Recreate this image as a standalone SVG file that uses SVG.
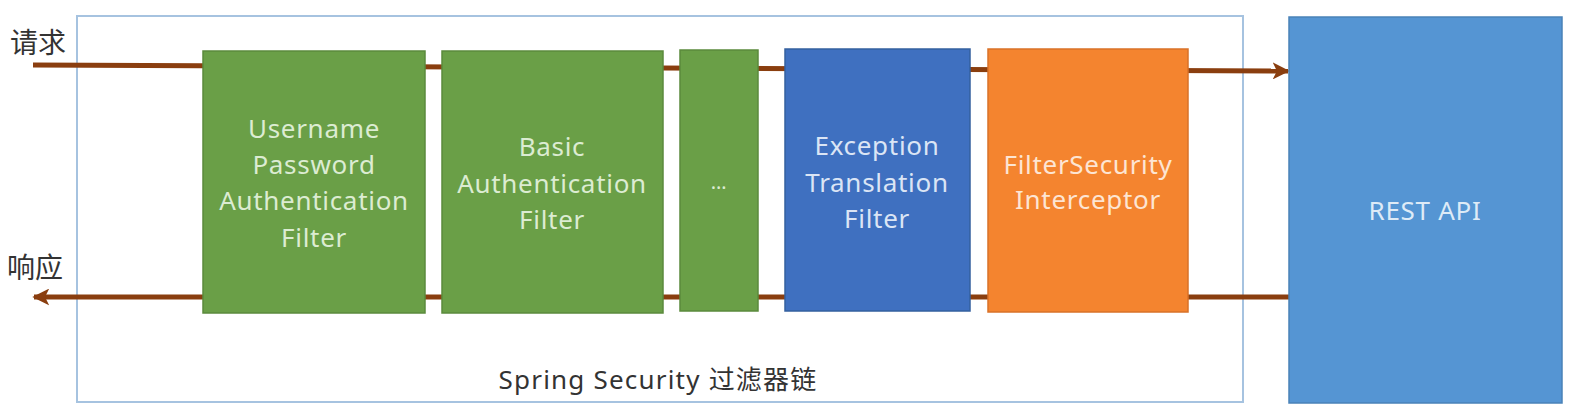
<svg xmlns="http://www.w3.org/2000/svg" width="1574" height="418" viewBox="0 0 1574 418">
<style>
  .lbl { font-family: "Noto Sans", "Open Sans", "Noto Sans CJK SC", sans-serif; font-size: 26px; letter-spacing: 0.7px; text-anchor: middle; }
  .g { fill: #6a9f47; stroke: #5b8a3c; stroke-width: 1.5; }
  .gt { fill: #dcecd2; }
  .b { fill: #3f70c0; stroke: #35609f; stroke-width: 1.5; }
  .bt { fill: #dbe5f5; }
  .o { fill: #f4842f; stroke: #d97228; stroke-width: 1.5; }
  .ot { fill: #fde5d3; }
  .r { fill: #5595d3; stroke: #4a82b8; stroke-width: 1.5; }
  .rt { fill: #deebf7; }
  .side { font-family: "Noto Sans CJK SC", sans-serif; font-size: 28px; fill: #333333; }
  .conn { stroke: #8a3e0f; stroke-width: 5; fill: none; }
</style>
<defs>
  <marker id="ah" viewBox="0 0 10 10" refX="9" refY="5" markerWidth="3.4" markerHeight="3.4" orient="auto" markerUnits="strokeWidth">
    <path d="M0,0 L10,5 L0,10 L2.5,5 Z" fill="#8a3e0f"/>
  </marker>
</defs>
<rect width="1574" height="418" fill="#ffffff"/>
<g id="chain">
  <rect x="77" y="16" width="1166" height="386" fill="none" stroke="#a6c3e0" stroke-width="2"/>
  <text class="lbl" x="658" y="389" style="letter-spacing:1.2px" fill="#333333">Spring Security 过滤器链</text>
</g>
<g id="request-label"><text class="side" x="10" y="53">请求</text></g>
<g id="response-label"><text class="side" x="7" y="278">响应</text></g>
<g id="connectors">
  <line class="conn" x1="33" y1="65" x2="1288" y2="71" marker-end="url(#ah)"/>
  <line class="conn" x1="1289" y1="297" x2="34" y2="297" marker-end="url(#ah)"/>
</g>
<g id="username-filter">
  <rect class="g" x="203" y="51" width="222" height="262"/>
  <text class="lbl gt" x="314" y="138">Username</text>
  <text class="lbl gt" x="314" y="174">Password</text>
  <text class="lbl gt" x="314" y="210">Authentication</text>
  <text class="lbl gt" x="314" y="247">Filter</text>
</g>
<g id="basic-filter">
  <rect class="g" x="442" y="51" width="221" height="262"/>
  <text class="lbl gt" x="552" y="156">Basic</text>
  <text class="lbl gt" x="552" y="193">Authentication</text>
  <text class="lbl gt" x="552" y="229">Filter</text>
</g>
<g id="more-filters">
  <rect class="g" x="680" y="50" width="78" height="261"/>
  <text class="lbl gt" x="719" y="189" style="font-size:20px">…</text>
</g>
<g id="exception-filter">
  <rect class="b" x="785" y="49" width="185" height="262"/>
  <text class="lbl bt" x="877" y="155">Exception</text>
  <text class="lbl bt" x="877" y="192">Translation</text>
  <text class="lbl bt" x="877" y="228">Filter</text>
</g>
<g id="filter-security-interceptor">
  <rect class="o" x="988" y="49" width="200" height="263"/>
  <text class="lbl ot" x="1088" y="174">FilterSecurity</text>
  <text class="lbl ot" x="1088" y="209">Interceptor</text>
</g>
<g id="rest-api">
  <rect class="r" x="1289" y="17" width="273" height="386"/>
  <text class="lbl rt" x="1425" y="220">REST API</text>
</g>
</svg>
